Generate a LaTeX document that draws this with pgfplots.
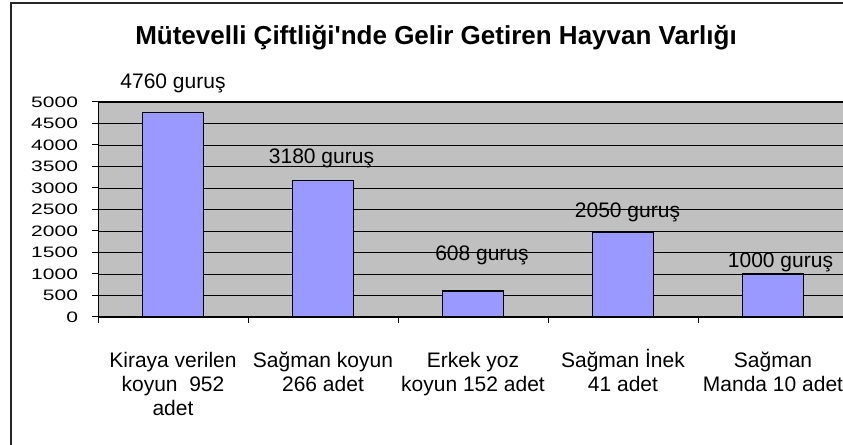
\documentclass[border=0pt]{standalone}
\usepackage{fontspec}
\setmainfont{Liberation Sans}[Ligatures=TeXOff]
\usepackage{graphicx}
\usepackage{pgfplots}
\pgfplotsset{compat=1.18}
\definecolor{plotbg}{HTML}{C0C0C0}
\definecolor{barfill}{HTML}{9999FF}
\newcommand{\lr}{\rule{0pt}{15pt}}
\begin{document}
\begin{tikzpicture}
\clip (0,0) rectangle (632.25pt,333.75pt);
\fill[white] (0,0) rectangle (632.25pt,333.75pt);
\draw[black!85, line width=1pt] (8.25pt,-5pt) -- (8.25pt,331.5pt) -- (640pt,331.5pt);
\node[font=\fontsize{19.5}{23}\selectfont\bfseries] at (327pt,305.5pt) {Mütevelli Çiftliği'nde Gelir Getiren Hayvan Varlığı};
\begin{axis}[
  at={(73.5pt,96pt)}, anchor=south west,
  width=562.5pt, height=161.25pt, scale only axis,
  xmin=-0.5, xmax=4.5, ymin=0, ymax=5000,
  clip=false,
  axis background/.style={fill=plotbg},
  axis line style={black, line width=0.75pt},
  ymajorgrids, grid style={black, line width=0.7pt},
  ytick={0,500,...,5000},
  /pgf/number format/1000 sep={},
  /pgf/number format/assume math mode=true,
  yticklabel={\scalebox{1}[0.72]{\pgfmathprintnumber{\tick}}},
  yticklabel style={font=\fontsize{15.75}{18}\selectfont, xshift=-7pt},
  xtick={-0.5,0.5,1.5,2.5,3.5,4.5},
  xticklabels={,,,,,},
  tick align=outside, major tick length=4.5pt,
  tick style={black, line width=0.75pt},
  xtick pos=bottom, ytick pos=left,
  extra x ticks={0,1,2,3,4},
  extra x tick labels={{\lr Kiraya verilen\\koyun\ \ 952\\adet},{\lr Sağman koyun\\266 adet},{\lr Erkek yoz\\koyun 152 adet},{\lr Sağman İnek\\41 adet},{\lr Sağman\\Manda 10 adet}},
  extra x tick style={major tick length=0pt},
  xticklabel style={align=center, font=\fontsize{15.75}{18}\selectfont, yshift=-19pt},
]
\addplot[ybar, bar width=0.41, fill=barfill, draw=black, line width=1.1pt]
  coordinates {(0,4760) (1,3180) (2,600) (3,1960) (4,1000)};
\node[font=\fontsize{15.75}{18}\selectfont] at (axis cs:0,5442) {4760 guruş};
\node[font=\fontsize{15.75}{18}\selectfont] at (axis cs:0.99,3698) {3180 guruş};
\node[font=\fontsize{15.75}{18}\selectfont] at (axis cs:2.06,1442) {608 guruş};
\node[font=\fontsize{15.75}{18}\selectfont] at (axis cs:3.03,2442) {2050 guruş};
\node[font=\fontsize{15.75}{18}\selectfont] at (axis cs:4.05,1279) {1000 guruş};
\end{axis}
\end{tikzpicture}
\end{document}
